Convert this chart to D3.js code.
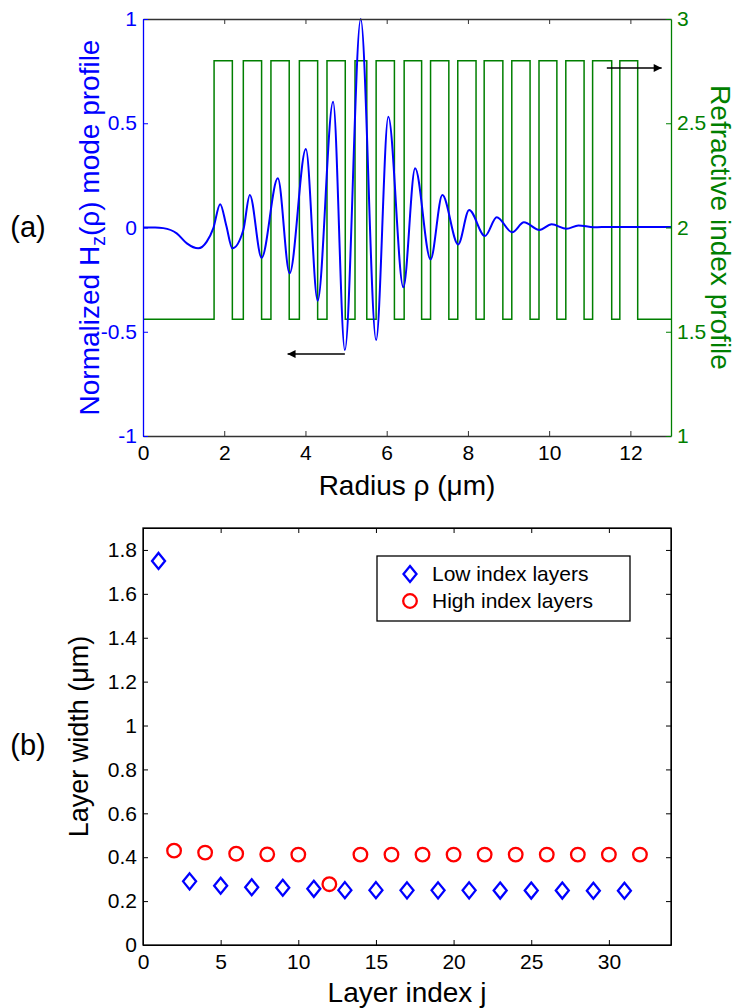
<!DOCTYPE html>
<html><head><meta charset="utf-8">
<script src="https://cdn.jsdelivr.net/npm/d3@7"></script>
<style>
body{margin:0;background:#fff;}
text{font-family:"Liberation Sans",Arial,Helvetica,sans-serif;}
</style></head>
<body>
<svg id="c" width="742" height="1008"></svg>
<script>
// ---------- data: panel (a) ----------
const rho = [0, 0.3, 0.5, 0.83, 1.08, 1.36, 1.57, 1.73, 1.90, 2.05, 2.20, 2.47, 2.63, 2.92, 3.32, 3.61, 4.01, 4.30, 4.68, 4.97, 5.36, 5.74, 6.04, 6.41, 6.70, 7.08, 7.37, 7.76, 8.03, 8.42, 8.71, 9.09, 9.38, 9.76, 10.06, 10.43, 10.72, 11.1, 11.5, 12.0, 12.5, 13.0];
const hz  = [0, 0, -0.003, -0.028, -0.076, -0.10, -0.068, -0.004, 0.112, 0.01, -0.10, -0.012, 0.156, -0.145, 0.236, -0.22, 0.376, -0.351, 0.603, -0.588, 1.0, -0.54, 0.531, -0.287, 0.284, -0.153, 0.156, -0.081, 0.084, -0.041, 0.049, -0.023, 0.025, -0.012, 0.015, -0.006, 0.01, 0.001, 0.003, 0.002, 0.002, 0.002];
const layerBounds = [1.75, 2.20, 2.47, 2.92, 3.15, 3.60, 3.85, 4.30, 4.53, 4.98, 5.22, 5.51, 5.74, 6.19, 6.43, 6.86, 7.08, 7.53, 7.75, 8.20, 8.40, 8.86, 9.08, 9.53, 9.75, 10.19, 10.41, 10.86, 11.07, 11.54, 11.74, 12.18];
const nLow = 1.56, nHigh = 2.8;
const xTicksA = [0, 2, 4, 6, 8, 10, 12];
const yTicksLeftA = [-1, -0.5, 0, 0.5, 1];
const yTicksRightA = [1, 1.5, 2, 2.5, 3];

// ---------- data: panel (b) ----------
const lowJ  = [1, 3, 5, 7, 9, 11, 13, 15, 17, 19, 21, 23, 25, 27, 29, 31];
const lowW  = [1.75, 0.29, 0.27, 0.263, 0.261, 0.256, 0.25, 0.25, 0.249, 0.249, 0.249, 0.248, 0.248, 0.248, 0.247, 0.247];
const highJ = [2, 4, 6, 8, 10, 12, 14, 16, 18, 20, 22, 24, 26, 28, 30, 32];
const highW = [0.43, 0.421, 0.416, 0.413, 0.412, 0.277, 0.412, 0.412, 0.412, 0.412, 0.412, 0.412, 0.412, 0.412, 0.412, 0.412];
const xTicksB = [0, 5, 10, 15, 20, 25, 30];
const yTicksB = [0, 0.2, 0.4, 0.6, 0.8, 1, 1.2, 1.4, 1.6, 1.8];
const yTickLabelsB = ["0", "0.2", "0.4", "0.6", "0.8", "1", "1.2", "1.4", "1.6", "1.8"];

const svg = d3.select("#c");
const BLUE = "#0000ff", GREEN = "#007f00", RED = "#ff0000";
const TICKFS = 21, LABFS = 28;
const fmt = d => String(d);

// ---------- panel (a) ----------
const A = {l:143, r:671, t:19, b:436};
const xA = d3.scaleLinear().domain([0, 13]).range([A.l, A.r]);
const yA = d3.scaleLinear().domain([-1, 1]).range([A.b, A.t]);
const yA2 = d3.scaleLinear().domain([1, 3]).range([A.b, A.t]);

// index profile (step)
const stepPts = [[0, nLow]];
layerBounds.forEach((b, i) => stepPts.push([b, i % 2 === 0 ? nHigh : nLow]));
stepPts.push([13, nLow]);
svg.append("path").datum(stepPts)
  .attr("d", d3.line().x(d => xA(d[0])).y(d => yA2(d[1])).curve(d3.curveStepAfter))
  .attr("fill", "none").attr("stroke", GREEN).attr("stroke-width", 1.5);

// mode profile
const modePts = d3.zip(rho, hz);
svg.append("path").datum(modePts)
  .attr("d", d3.line().x(d => xA(d[0])).y(d => yA(d[1])).curve(d3.curveMonotoneX))
  .attr("fill", "none").attr("stroke", BLUE).attr("stroke-width", 2);

// axes (a)
const gxA = svg.append("g").attr("transform", `translate(0,${A.b})`)
  .call(d3.axisBottom(xA).tickValues(xTicksA).tickSizeInner(-5).tickSizeOuter(0).tickPadding(9).tickFormat(fmt));
const gxAt = svg.append("g").attr("transform", `translate(0,${A.t})`)
  .call(d3.axisTop(xA).tickValues(xTicksA).tickSizeInner(-5).tickSizeOuter(0).tickFormat(""));
const gyA = svg.append("g").attr("transform", `translate(${A.l},0)`)
  .call(d3.axisLeft(yA).tickValues(yTicksLeftA).tickSizeInner(-5).tickSizeOuter(0).tickPadding(6).tickFormat(fmt));
const gyA2 = svg.append("g").attr("transform", `translate(${A.r},0)`)
  .call(d3.axisRight(yA2).tickValues(yTicksRightA).tickSizeInner(-5).tickSizeOuter(0).tickPadding(6).tickFormat(fmt));
[gxA, gxAt].forEach(g => { g.select(".domain").attr("stroke", "#333").attr("stroke-width", 1.3); g.selectAll(".tick line").attr("stroke", "#333"); });
gyA.select(".domain").attr("stroke", BLUE).attr("stroke-width", 1.3);
gyA.selectAll(".tick line").attr("stroke", BLUE);
gyA2.select(".domain").attr("stroke", GREEN).attr("stroke-width", 1.3);
gyA2.selectAll(".tick line").attr("stroke", GREEN);
svg.selectAll(".tick text").attr("font-size", TICKFS).attr("font-family", "Liberation Sans, Arial, sans-serif");
gxA.selectAll(".tick text").attr("fill", "#000");
gyA.selectAll(".tick text").attr("fill", BLUE);
gyA2.selectAll(".tick text").attr("fill", GREEN);

// labels (a)
svg.append("text").attr("x", xA(6.5)).attr("y", 495).attr("text-anchor", "middle")
  .attr("font-size", LABFS).text("Radius ρ (μm)");
const yl = svg.append("text").attr("transform", `translate(99,${(A.t + A.b) / 2}) rotate(-90)`)
  .attr("text-anchor", "middle").attr("font-size", LABFS).attr("fill", BLUE);
yl.append("tspan").text("Normalized H");
yl.append("tspan").attr("font-size", LABFS * 0.7).attr("dy", 6).text("z");
yl.append("tspan").attr("dy", -6).text("(ρ) mode profile");
svg.append("text").attr("transform", `translate(711,${(A.t + A.b) / 2}) rotate(90)`)
  .attr("text-anchor", "middle").attr("font-size", LABFS).attr("fill", GREEN).text("Refractive index profile");
svg.append("text").attr("x", 28).attr("y", 237).attr("text-anchor", "middle").attr("font-size", 29).text("(a)");

// arrows
svg.append("defs").append("marker").attr("id", "ah").attr("viewBox", "0 0 10 10").attr("refX", 10).attr("refY", 5)
  .attr("markerWidth", 11).attr("markerHeight", 8).attr("markerUnits", "userSpaceOnUse").attr("orient", "auto")
  .append("path").attr("d", "M0,0L10,5L0,10z").attr("fill", "#000");
svg.append("line").attr("x1", xA(11.42)).attr("x2", xA(12.77)).attr("y1", yA(0.765)).attr("y2", yA(0.765))
  .attr("stroke", "#000").attr("stroke-width", 1.6).attr("marker-end", "url(#ah)");
svg.append("line").attr("x1", xA(4.97)).attr("x2", xA(3.56)).attr("y1", yA(-0.607)).attr("y2", yA(-0.607))
  .attr("stroke", "#000").attr("stroke-width", 1.6).attr("marker-end", "url(#ah)");

// ---------- panel (b) ----------
const B = {l:143, r:671, t:528, b:945};
const xB = d3.scaleLinear().domain([0, 34]).range([B.l, B.r]);
const yB = d3.scaleLinear().domain([0, 1.9]).range([B.b, B.t]);

svg.append("rect").attr("x", B.l).attr("y", B.t).attr("width", B.r - B.l).attr("height", B.b - B.t)
  .attr("fill", "none").attr("stroke", "#000").attr("stroke-width", 1.3);
const gxB = svg.append("g").attr("transform", `translate(0,${B.b})`)
  .call(d3.axisBottom(xB).tickValues(xTicksB).tickSizeInner(-5).tickSizeOuter(0).tickPadding(9).tickFormat(fmt));
svg.append("g").attr("transform", `translate(0,${B.t})`)
  .call(d3.axisTop(xB).tickValues(xTicksB).tickSizeInner(-5).tickSizeOuter(0).tickFormat(""));
const gyB = svg.append("g").attr("transform", `translate(${B.l},0)`)
  .call(d3.axisLeft(yB).tickValues(yTicksB).tickSizeInner(-5).tickSizeOuter(0).tickPadding(6)
    .tickFormat((d, i) => yTickLabelsB[i]));
svg.append("g").attr("transform", `translate(${B.r},0)`)
  .call(d3.axisRight(yB).tickValues(yTicksB).tickSizeInner(-5).tickSizeOuter(0).tickFormat(""));
svg.selectAll(".tick text").attr("font-size", TICKFS).attr("font-family", "Liberation Sans, Arial, sans-serif");
gxB.selectAll(".tick text").attr("fill", "#000");
gyB.selectAll(".tick text").attr("fill", "#000");

svg.append("text").attr("x", xB(17)).attr("y", 1002).attr("text-anchor", "middle").attr("font-size", LABFS).text("Layer index j");
svg.append("text").attr("transform", `translate(88,${(B.t + B.b) / 2}) rotate(-90)`)
  .attr("text-anchor", "middle").attr("font-size", LABFS - 1).text("Layer width (μm)");
svg.append("text").attr("x", 28).attr("y", 755).attr("text-anchor", "middle").attr("font-size", 29).text("(b)");

const diamond = (cx, cy) => `M${cx},${cy - 8}L${cx + 6.5},${cy}L${cx},${cy + 8}L${cx - 6.5},${cy}Z`;
svg.append("g").selectAll("path").data(d3.zip(lowJ, lowW)).join("path")
  .attr("d", d => diamond(xB(d[0]), yB(d[1])))
  .attr("fill", "none").attr("stroke", BLUE).attr("stroke-width", 2.3);
svg.append("g").selectAll("circle").data(d3.zip(highJ, highW)).join("circle")
  .attr("cx", d => xB(d[0])).attr("cy", d => yB(d[1])).attr("r", 6.8)
  .attr("fill", "none").attr("stroke", RED).attr("stroke-width", 2.3);

// legend
const lg = svg.append("g");
lg.append("rect").attr("x", 377).attr("y", 556).attr("width", 253).attr("height", 65)
  .attr("fill", "#fff").attr("stroke", "#000").attr("stroke-width", 1.3);
lg.append("path").attr("d", diamond(410, 574)).attr("fill", "none").attr("stroke", BLUE).attr("stroke-width", 2.3);
lg.append("circle").attr("cx", 410).attr("cy", 601).attr("r", 6.8).attr("fill", "none").attr("stroke", RED).attr("stroke-width", 2.3);
lg.append("text").attr("x", 432).attr("y", 581).attr("font-size", 21).text("Low index layers");
lg.append("text").attr("x", 432).attr("y", 608).attr("font-size", 21).text("High index layers");
</script>
</body></html>
